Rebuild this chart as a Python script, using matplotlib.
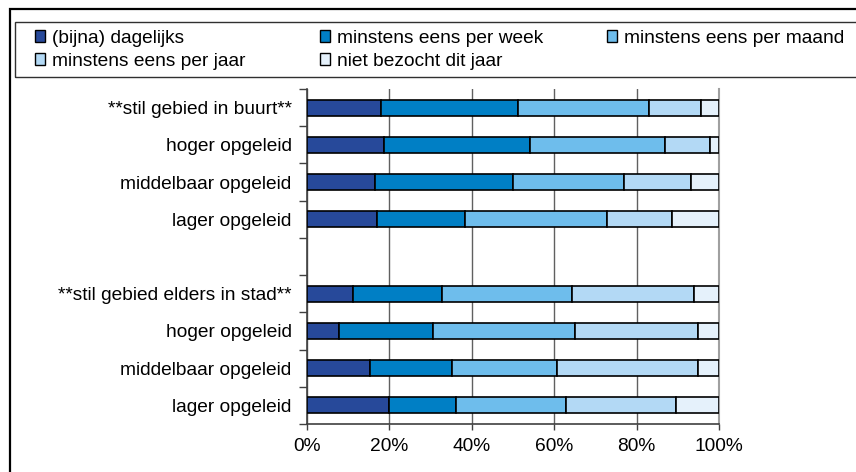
#!/usr/bin/python3

import matplotlib
matplotlib.use('Agg')
import matplotlib.pyplot as plt
from matplotlib.patches import Patch, Rectangle
from matplotlib.ticker import FixedLocator, PercentFormatter
import numpy as np

plt.rcParams['font.family'] = ['Liberation Sans', 'DejaVu Sans']

# rows top to bottom, '' is the empty gap row
rows = ['**stil gebied in buurt**', 'hoger opgeleid', 'middelbaar opgeleid', 'lager opgeleid',
        '',
        '**stil gebied elders in stad**', 'hoger opgeleid', 'middelbaar opgeleid', 'lager opgeleid']

series = ['(bijna) dagelijks', 'minstens eens per week', 'minstens eens per maand',
          'minstens eens per jaar', 'niet bezocht dit jaar']

dagelijks = [17.9, 18.6, 16.5, 17.0, 0, 11.2, 7.8, 15.2, 20.0]
week      = [33.2, 35.5, 33.5, 21.4, 0, 21.5, 22.8, 20.1, 16.1]
maand     = [31.8, 32.8, 26.9, 34.5, 0, 31.5, 34.4, 25.5, 26.8]
jaar      = [12.7, 10.9, 16.2, 15.8, 0, 29.8, 29.8, 34.0, 26.7]
niet      = [4.4, 2.2, 6.9, 11.3, 0, 6.0, 5.2, 5.2, 10.4]

colors = ['#27499a', '#007fc5', '#6ebdec', '#b3d9f5', '#e5f1fb']

fig = plt.figure(figsize=(8.56, 4.72), dpi=100)
ax = fig.add_axes([307/856, 1-424/472, 412/856, 335/472])

ypos = np.arange(len(rows))
left = np.zeros(len(rows))
for vals, c in zip([dagelijks, week, maand, jaar, niet], colors):
  v = np.array(vals)
  keep = v > 0  # skip the empty gap row
  ax.barh(ypos[keep], v[keep], left=left[keep], height=0.43, color=c,
          edgecolor='black', linewidth=1.2, zorder=3)
  left += v

ax.set_xlim(0, 100)
ax.set_ylim(len(rows)-0.5, -0.5)
ax.set_yticks(ypos)
ax.set_yticklabels(rows, fontsize=13.8)
ax.yaxis.set_minor_locator(FixedLocator(np.arange(-0.5, len(rows), 1)))
ax.tick_params(axis='y', which='major', length=0, pad=11)
ax.tick_params(axis='y', which='minor', length=6, width=1, color='#404040')

ax.set_xticks([0, 20, 40, 60, 80, 100])
ax.xaxis.set_major_formatter(PercentFormatter(decimals=0))
ax.tick_params(axis='x', length=4, width=1, color='#404040', labelsize=13.8, pad=6)

ax.grid(axis='x', color='#606060', linewidth=1.0, zorder=0)
ax.spines['top'].set_visible(False)
ax.spines['right'].set_color('#a0a0a0')
ax.spines['right'].set_linewidth(1.5)
for s in ['left', 'bottom']:
  ax.spines[s].set_color('#404040')
  ax.spines[s].set_linewidth(1.2)

# legend in three columns, like the excel one
handles = [Patch(facecolor=c, edgecolor='black', linewidth=1.0) for c in colors]
cols = [([0, 3], 29/856), ([1, 4], 314/856), ([2], 601/856)]
for idx, x0 in cols:
  fig.legend([handles[i] for i in idx], [series[i] for i in idx],
             loc='upper left', bbox_to_anchor=(x0, 1-24/472), frameon=False,
             fontsize=13.8, handlelength=0.55, handleheight=0.55, handletextpad=0.35,
             labelspacing=0.32, borderpad=0.3, borderaxespad=0)

# legend box and outer chart frame
fig.add_artist(Rectangle((15/856, 1-77/472), 1.0, 55/472, transform=fig.transFigure,
                         fill=False, edgecolor='#303030', linewidth=1.0))
fig.add_artist(Rectangle((10/856, -0.1), 1.0, 1.1-9/472, transform=fig.transFigure,
                         fill=False, edgecolor='black', linewidth=1.6))

fig.savefig('out.png', dpi=100)
